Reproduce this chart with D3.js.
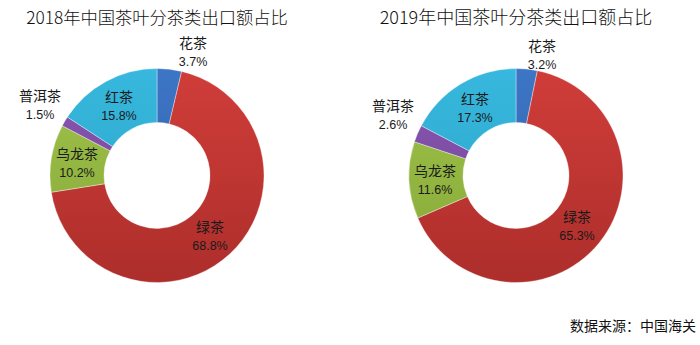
<!DOCTYPE html>
<html><head><meta charset="utf-8">
<script src="https://cdn.jsdelivr.net/npm/d3@7"></script>
<style>body{margin:0;background:#fff}svg{display:block}</style>
</head><body>
<svg id="c" width="700" height="345"></svg>
<script>
const categories = ["花茶", "绿茶", "乌龙茶", "普洱茶", "红茶"];
const values2018 = [3.7, 68.8, 10.2, 1.5, 15.8];
const values2019 = [3.2, 65.3, 11.6, 2.6, 17.3];
const titles = ["2018年中国茶叶分茶类出口额占比", "2019年中国茶叶分茶类出口额占比"];
const source = "数据来源：中国海关";

const colorsTop = ["#3d76c6", "#d03d39", "#9fc44c", "#8a57b2", "#38b8de"];
const colorsBot = ["#2c5ea6", "#ad2e2b", "#86a636", "#6e4396", "#27a0c6"];

const svg = d3.select("#c");
const font = "'Noto Sans CJK SC', 'Noto Sans', sans-serif";
const numFont = "'Liberation Sans', 'DejaVu Sans', sans-serif";
const defs = svg.append("defs");

const charts = [
  {values: values2018, cx: 157, cy: 175.5, R: 107, r: 53, title: titles[0], tx: 157, tfs: 17.3,
   labels: [[193, 44], [210, 228], [77, 155], [40, 97], [119, 98]]},
  {values: values2019, cx: 516, cy: 175.5, R: 107, r: 53, title: titles[1], tx: 516, tfs: 18,
   labels: [[542, 47], [577, 218], [435, 172], [393, 107], [475, 100]]}
];

const pie = d3.pie().sort(null).value(d => d);

charts.forEach((ch, ci) => {
  const g = svg.append("g").attr("transform", `translate(${ch.cx},${ch.cy})`);
  categories.forEach((c, i) => {
    const gr = defs.append("linearGradient").attr("id", `g${ci}_${i}`)
      .attr("gradientUnits", "userSpaceOnUse")
      .attr("x1", 0).attr("y1", -ch.R).attr("x2", 0).attr("y2", ch.R);
    gr.append("stop").attr("offset", 0).attr("stop-color", colorsTop[i]);
    gr.append("stop").attr("offset", 1).attr("stop-color", colorsBot[i]);
  });
  const arc = d3.arc().innerRadius(ch.r).outerRadius(ch.R);
  g.selectAll("path").data(pie(ch.values)).join("path")
    .attr("d", arc)
    .attr("fill", (d, i) => `url(#g${ci}_${i})`)
    .attr("stroke", "#ffffff").attr("stroke-width", 0.6).attr("stroke-opacity", 0.6);

  svg.append("text").attr("x", ch.tx).attr("y", 24)
    .attr("text-anchor", "middle").attr("font-family", font)
    .attr("font-size", ch.tfs).attr("font-weight", 300).attr("fill", "#111")
    .text(ch.title);

  ch.labels.forEach((p, i) => {
    svg.append("text").attr("text-anchor", "middle")
      .attr("font-family", font).attr("font-size", 14).attr("fill", "#1a1a1a")
      .attr("x", p[0]).attr("y", p[1] + 4).text(categories[i]);
    svg.append("text").attr("text-anchor", "middle")
      .attr("font-family", numFont).attr("font-size", 12.5).attr("fill", "#1a1a1a")
      .attr("x", p[0]).attr("y", p[1] + 22).text(ch.values[i].toFixed(1) + "%");
  });
});

svg.append("text").attr("x", 570).attr("y", 331)
  .attr("font-family", font).attr("font-size", 14).attr("fill", "#111")
  .text(source);
</script>
</body></html>
